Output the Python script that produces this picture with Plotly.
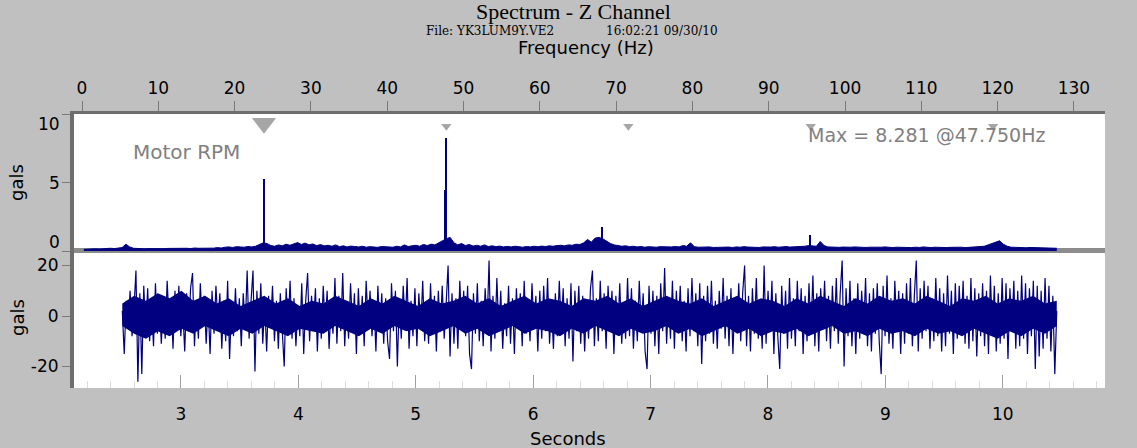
import numpy as np
import plotly.graph_objects as go

# ---------------- data ----------------
# Spectrum floor (gals) on bins: first bin centre and bin width (Hz)
FREQ_START = 0.25
FREQ_STEP = 0.5
spec_amp = [
    0.12, 0.15, 0.14, 0.16, 0.15, 0.18, 0.17, 0.2, 0.18, 0.22, 0.25, 0.5, 0.3, 0.2, 0.18, 0.17,
    0.16, 0.18, 0.17, 0.2, 0.18, 0.17, 0.19, 0.2, 0.18, 0.21, 0.19, 0.2, 0.18, 0.22, 0.2, 0.19,
    0.2, 0.22, 0.21, 0.25, 0.22, 0.28, 0.3, 0.26, 0.32, 0.3, 0.28, 0.33, 0.3, 0.35, 0.45, 0.6,
    0.55, 0.4, 0.35, 0.45, 0.38, 0.5, 0.42, 0.55, 0.62, 0.48, 0.58, 0.45, 0.52, 0.4, 0.47, 0.38,
    0.42, 0.35, 0.45, 0.32, 0.38, 0.3, 0.36, 0.33, 0.3, 0.35, 0.28, 0.32, 0.3, 0.27, 0.33, 0.3,
    0.32, 0.28, 0.35, 0.3, 0.45, 0.33, 0.38, 0.42, 0.35, 0.48, 0.4, 0.5, 0.45, 0.6, 0.8, 0.9,
    1.0, 0.6, 0.45, 0.55, 0.4, 0.48, 0.36, 0.42, 0.35, 0.45, 0.33, 0.38, 0.32, 0.36, 0.3, 0.34,
    0.3, 0.35, 0.32, 0.28, 0.33, 0.3, 0.35, 0.31, 0.36, 0.33, 0.38, 0.35, 0.4, 0.42, 0.38, 0.45,
    0.42, 0.5, 0.48, 0.6, 0.85, 0.65, 0.95, 1.0, 0.9, 0.7, 0.55, 0.45, 0.4, 0.35, 0.38, 0.32,
    0.35, 0.3, 0.33, 0.28, 0.32, 0.3, 0.28, 0.32, 0.3, 0.27, 0.3, 0.33, 0.3, 0.4, 0.35, 0.6,
    0.32, 0.28, 0.3, 0.27, 0.3, 0.26, 0.28, 0.3, 0.27, 0.29, 0.26, 0.3, 0.28, 0.32, 0.29, 0.27,
    0.28, 0.26, 0.3, 0.27, 0.29, 0.32, 0.28, 0.3, 0.33, 0.29, 0.31, 0.28, 0.32, 0.35, 0.4, 0.35,
    0.35, 0.7, 0.4, 0.3, 0.28, 0.3, 0.27, 0.29, 0.26, 0.28, 0.3, 0.27, 0.29, 0.26, 0.28, 0.27,
    0.26, 0.28, 0.3, 0.27, 0.25, 0.28, 0.26, 0.29, 0.27, 0.25, 0.28, 0.26, 0.3, 0.27, 0.25, 0.28,
    0.26, 0.28, 0.25, 0.27, 0.29, 0.26, 0.28, 0.25, 0.27, 0.3, 0.28, 0.32, 0.35, 0.45, 0.55, 0.6,
    0.75, 0.5, 0.35, 0.28, 0.26, 0.25, 0.27, 0.24, 0.26, 0.25, 0.23, 0.25, 0.24, 0.22, 0.23, 0.2,
]

# Narrow spectral lines (Hz, gals)
line_freq = [23.85, 47.6, 47.75, 68.1, 95.4]
line_amp = [5.3, 4.5, 8.281, 1.8, 1.2]

# Motor RPM order markers (Hz)
rpm_orders_hz = [23.85, 47.75, 71.6, 95.5, 119.4]

# Time waveform (gals), sampled evenly from T_START to T_END seconds
T_START = 2.50
T_END = 10.46
wave = [
    2, -15, 6, -4, 10, -8, 3, 18, -26, 9, -23, 12, -6, 11, -10, 4, -12, 13, -7, 8,
    -11, 5, -9, 14, -3, 7, -13, 10, -5, 12, -8, 3, -14, 9, -6, 11, 17, -12, 6, -9,
    13, -4, 8, -11, 5, -15, 10, -7, 12, -3, 9, -13, 6, -10, 14, -17, 4, -8, 11, -6,
    7, -12, 9, -5, 18, -9, 6, 18, -22, 10, -7, 13, -11, 5, -14, 8, -4, 12, -10, 6,
    -13, 9, -6, -20, 11, -5, 14, -9, 7, -12, 4, -8, 13, -15, 6, 17, -10, 8, -4, 11,
    -14, 7, -9, 12, -5, 10, -13, 4, -7, 15, -11, 8, -6, 17, -12, 5, -9, 13, -4, 9,
    -15, 11, -6, 8, -12, 14, -3, 10, -8, 6, -14, 12, -5, 9, -11, 7, -10, -17, 13, -6,
    10, -20, 7, -9, 12, -4, 15, -13, 6, -8, 11, -12, 9, -5, 14, -10, 4, -11, 13, -7,
    8, -14, 10, -6, 12, -9, 5, 20, -16, 9, -11, 7, -13, 14, -5, 10, -8, 12, -15, -21,
    9, -7, 13, -10, 6, -12, 11, -4, 22, -14, 8, -9, 15, -6, 10, -13, 5, -8, 12, -11,
    7, -15, 11, -5, 9, -12, 14, -7, 6, -10, 13, -4, 8, -14, 10, -9, 12, -6, 15, -11,
    5, -13, 9, -8, 14, -5, 11, -12, 7, -9, 13, -18, 10, -6, 12, -11, 8, -14, 6, -9,
    11, 18, -12, 7, -10, 14, -6, 9, -13, 12, -4, 10, -15, 8, -7, 13, -11, 5, -9, 15,
    -8, 11, -13, 6, -10, 14, -5, 9, -14, -21, 12, -7, 10, -12, 8, -15, 13, -6, 19, -11,
    7, -9, 14, -13, 10, -5, 12, -10, 6, -14, 11, -8, 15, -6, 9, -12, 13, -19, 8, -10,
    12, -7, 14, -11, 6, -13, 10, -5, 15, -9, 8, -12, 11, -15, 7, -6, 13, -10, 9, 20,
    -12, 8, -14, 11, -7, 15, -9, 6, -13, 20, -11, 10, -6, 14, -15, 9, -8, -21, 12, -7,
    10, -13, 15, -9, 7, -12, 14, -6, 11, -15, 8, -10, 13, -7, 16, -12, 9, -14, 11, -5,
    14, -10, 8, -13, 12, -6, 15, -11, 9, 22, -20, 11, -8, 14, -12, 7, -15, 13, -9, 10,
    -6, 15, -12, 9, -14, 11, -7, 13, -10, -23, 12, -8, 16, -11, 7, -13, 14, -6, 10, -15,
    9, -11, 13, -7, 15, -12, 8, 22, -14, 11, -9, 14, -6, 12, -13, 7, -10, 15, -8, 11,
    -14, 9, -12, 16, -7, 10, -15, 13, -9, 12, -6, 14, -11, 8, -13, 15, -10, 11, -16, 9,
    -8, 13, -12, 10, -15, 16, -7, 12, -14, 9, -11, 15, -9, 13, -17, 11, -6, 14, -13, 10,
    -12, 16, -9, 13, -15, 11, -8, 14, -21, 12, -16, 10, -13, 15, -9, 12, -14, 8, -23, 2,
]
# dense core of the waveform (upper / lower envelope, gals), evenly over the record
core_upper = [5, 8, 6, 9, 7, 10, 6, 8, 5, 7, 4, 6, 8, 5, 7, 4, 6, 5, 8, 6,
              4, 7, 5, 8, 6, 4, 7, 5, 6, 8, 5, 7, 4, 6, 8, 5, 7, 6, 4, 7,
              6, 8, 5, 7, 4, 6, 8, 6, 5, 7, 4, 6, 8, 5, 7, 6, 4, 7, 5, 8,
              6, 4, 7, 5, 8, 6, 7, 5, 8, 6, 4, 7, 6, 8, 5, 7, 6, 8, 5, 6]
core_lower = [-4, -7, -9, -6, -8, -5, -7, -4, -6, -8, -5, -7, -4, -6, -8, -5, -6, -7, -4, -6,
              -8, -5, -7, -4, -6, -5, -8, -6, -4, -7, -5, -8, -6, -4, -7, -5, -6, -8, -5, -7,
              -4, -6, -8, -5, -7, -6, -4, -7, -5, -8, -6, -4, -7, -5, -8, -6, -7, -5, -8, -6,
              -4, -7, -6, -8, -5, -7, -6, -8, -5, -7, -6, -8, -5, -7, -9, -6, -8, -5, -7, -4]

freq_ticks = list(range(0, 131, 10))
spec_yticks = [0, 5, 10]
time_ticks = [3, 4, 5, 6, 7, 8, 9, 10]
wave_yticks = [-20, 0, 20]
wave_yticktext = ["-20", "0", "20"]

title_text = "Spectrum - Z Channel"
file_text = "File: YK3LUM9Y.VE2"
stamp_text = "16:02:21 09/30/10"
max_text = "Max = 8.281 @47.750Hz"

# ---------------- figure ----------------
spec_freq = FREQ_START + FREQ_STEP * np.arange(len(spec_amp))
t = np.linspace(T_START, T_END, len(wave))
t_core = np.linspace(T_START, T_END, len(core_upper))

NAVY = "#000080"
GRAY_TXT = "#808080"
AXIS_DARK = "#6e6e6e"
STUB = "#c8c8c8"
STUB_MINOR = "#dcdcdc"
SANS = "DejaVu Sans"
SERIF = "Liberation Serif"

W, H = 1137, 448
ML, MR, MT, MB = 74, 32, 114, 60
PW, PH = W - ML - MR, H - MT - MB
SPLIT = (388 - 253) / PH

def px(x):
    return (x - ML) / PW

def py(y):
    return (H - MB - y) / PH

fig = go.Figure()
fig.add_trace(go.Scatter(
    x=spec_freq, y=spec_amp, xaxis="x", yaxis="y", mode="lines",
    line=dict(color=NAVY, width=1), fill="tozeroy", fillcolor=NAVY,
    hoverinfo="skip"))
fig.add_trace(go.Bar(
    x=line_freq, y=line_amp, xaxis="x", yaxis="y", width=0.14,
    marker=dict(color=NAVY, line=dict(width=0)), hoverinfo="skip"))

fig.add_trace(go.Scatter(
    x=rpm_orders_hz, y=[9.39, 9.17, 9.17, 9.17, 9.17], xaxis="x", yaxis="y",
    mode="markers",
    marker=dict(symbol="triangle-down", size=[21, 9, 9, 9, 9], color=GRAY_TXT,
                line=dict(width=0)),
    hoverinfo="skip"))

fig.add_trace(go.Scatter(
    x=t_core, y=core_upper, xaxis="x2", yaxis="y2", mode="lines",
    line=dict(color=NAVY, width=0), hoverinfo="skip"))
fig.add_trace(go.Scatter(
    x=t_core, y=core_lower, xaxis="x2", yaxis="y2", mode="lines",
    line=dict(color=NAVY, width=0), fill="tonexty", fillcolor=NAVY,
    hoverinfo="skip"))
fig.add_trace(go.Scatter(
    x=t, y=wave, xaxis="x2", yaxis="y2", mode="lines",
    line=dict(color=NAVY, width=1.2), hoverinfo="skip"))

tickfont = dict(family=SANS, size=17, color="black")
noaxis = dict(showgrid=False, zeroline=False)

fig.update_layout(
    width=W, height=H,
    margin=dict(l=ML, r=MR, t=MT, b=MB, pad=0),
    paper_bgcolor="#c0c0c0", plot_bgcolor="white",
    showlegend=False, bargap=0,
    font=dict(family=SANS, size=17, color="black"),
    xaxis=dict(domain=[0, 1], anchor="y", side="top", range=[-1.048, 134.07],
               tickmode="array", tickvals=freq_ticks, ticks="outside", ticklen=10,
               tickcolor="#7a7a7a", showline=True, linecolor=AXIS_DARK, linewidth=3,
               tickfont=tickfont, **noaxis),
    xaxis3=dict(overlaying="x", anchor="y", side="top", range=[-1.048, 134.07],
                tickmode="array", tickvals=freq_ticks, ticks="inside", ticklen=13,
                tickcolor=STUB, showticklabels=False, showline=False,
                minor=dict(ticks="inside", ticklen=8, tickcolor=STUB_MINOR, dtick=2, tick0=0),
                **noaxis),
    xaxis4=dict(overlaying="x", anchor="y2", side="top", range=[-1.048, 134.07],
                tickmode="array", tickvals=freq_ticks, ticks="inside", ticklen=10,
                tickcolor=STUB, showticklabels=False, showline=False,
                minor=dict(ticks="inside", ticklen=4, tickcolor=STUB_MINOR, dtick=2, tick0=0),
                **noaxis),
    yaxis=dict(domain=[SPLIT, 1], anchor="x", range=[-0.147, 10.07],
               tickmode="array", tickvals=spec_yticks, ticks="outside", ticklen=8,
               tickcolor="#7a7a7a", showticklabels=False, showline=True,
               linecolor=AXIS_DARK, linewidth=4, **noaxis),
    yaxis3=dict(overlaying="y", anchor="x", side="left", range=[-0.147, 10.07],
                tickmode="array", tickvals=spec_yticks, ticks="inside", ticklen=13,
                tickcolor=STUB, showticklabels=False, showline=False,
                minor=dict(ticks="inside", ticklen=8, tickcolor=STUB_MINOR, dtick=1, tick0=0),
                **noaxis),
    xaxis2=dict(domain=[0, 1], anchor="y2", side="bottom", range=[2.0886, 10.871],
                tickmode="array", tickvals=time_ticks, ticks="inside", ticklen=13,
                tickcolor="#a0a0a0", showline=False, tickfont=tickfont,
                ticklabelstandoff=14,
                minor=dict(ticks="inside", ticklen=7, tickcolor=STUB_MINOR, dtick=0.2, tick0=0),
                **noaxis),
    yaxis2=dict(domain=[0, SPLIT], anchor="x2", range=[-28.5, 24.95],
                tickmode="array", tickvals=wave_yticks, ticktext=wave_yticktext,
                ticks="outside", ticklen=8,
                tickcolor="#7a7a7a", showline=True, linecolor=AXIS_DARK, linewidth=4,
                tickfont=tickfont, **noaxis),
    yaxis4=dict(overlaying="y2", anchor="x2", side="left", range=[-28.5, 24.95],
                tickmode="array", tickvals=wave_yticks, ticks="inside", ticklen=13,
                tickcolor=STUB, showticklabels=False, showline=False,
                minor=dict(ticks="inside", ticklen=8, tickcolor=STUB_MINOR, dtick=20 / 3, tick0=0),
                **noaxis),
)

# gray separator bar between the two panels
fig.add_shape(type="rect", xref="x domain", yref="y domain",
              x0=0, x1=1, y0=0, y1=5 / 139, fillcolor="#8c8c8c",
              line=dict(width=0), layer="below")

ann = []
def A(text, x, y, size=17, family=SANS, color="black", **kw):
    d = dict(text=text, x=x, y=y, xref="paper", yref="paper", showarrow=False,
             font=dict(family=family, size=size, color=color),
             xanchor=kw.pop("xanchor", "center"), yanchor=kw.pop("yanchor", "middle"))
    d.update(kw)
    ann.append(d)

A(title_text, px(573), py(12), size=22, family=SERIF)
A(file_text, px(490), py(31), size=12, family="DejaVu Serif")
A(stamp_text, px(662), py(31), size=12, family="DejaVu Serif")
A("Frequency (Hz)", px(586), py(47), size=18)
A("Seconds", px(568), py(438), size=18)
A("gals", px(16), py(183), size=18, textangle=-90)
A("gals", px(17), py(318), size=18, textangle=-90)
A("Motor RPM", px(186), py(152), size=20, color=GRAY_TXT)
A(max_text, px(926), py(135), size=19, color=GRAY_TXT)

# spectrum y tick labels (nudged inside the panel like the original)
for v, shift in zip(spec_yticks, [9, 0, -9]):
    ann.append(dict(text=str(v), x=0, xref="paper", y=v, yref="y", yshift=shift,
                    xshift=-12, xanchor="right", yanchor="middle", showarrow=False,
                    font=tickfont))

fig.update_layout(annotations=ann)
fig.write_html("out.html")
